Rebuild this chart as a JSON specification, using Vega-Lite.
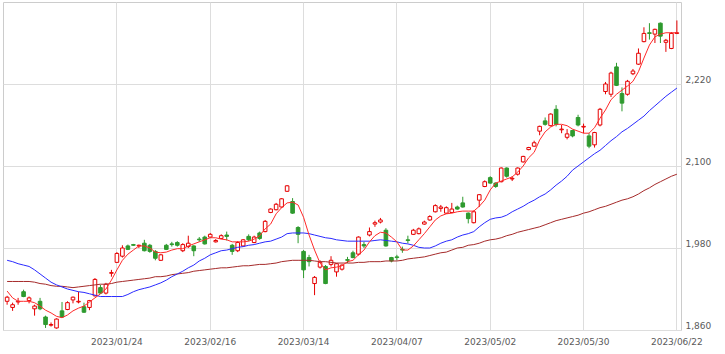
{
  "$schema": "https://vega.github.io/schema/vega-lite/v6.json",
  "width": 678,
  "height": 328,
  "autosize": {"type": "none"},
  "padding": {"left": 3, "top": 2, "right": 44, "bottom": 24},
  "background": "white",
  "config": {
    "view": {"stroke": "#cccccc", "strokeWidth": 1},
    "axis": {"labelFont": "DejaVu Sans", "labelFontSize": 9, "labelColor": "#5a5a5a", "gridColor": "#dddddd", "gridWidth": 1},
    "axisY": {"orient": "right", "title": null, "grid": true,
      "domain": false, "ticks": false, "labelBaseline": "bottom", "labelAlign": "left", "labelPadding": 4}
  },
  "data": {"values": [
    {"d":"2022/12/22","o":1902,"h":1910,"l":1897,"c":1908,"m5":1917,"m25":1962,"m75":1931},
    {"d":"2022/12/23","o":1893,"h":1900,"l":1888,"c":1897,"m5":1907,"m25":1960,"m75":1931},
    {"d":"2022/12/26","o":1901,"h":1907,"l":1897,"c":1902,"m5":1902,"m25":1957,"m75":1931},
    {"d":"2022/12/27","o":1916,"h":1919,"l":1908,"c":1909,"m5":1902,"m25":1955,"m75":1931},
    {"d":"2022/12/28","o":1903,"h":1909,"l":1899,"c":1907,"m5":1902,"m25":1953,"m75":1931},
    {"d":"2022/12/29","o":1891,"h":1897,"l":1881,"c":1895,"m5":1900,"m25":1948,"m75":1930},
    {"d":"2022/12/30","o":1902,"h":1907,"l":1889,"c":1891,"m5":1895,"m25":1942,"m75":1928},
    {"d":"2023/01/04","o":1879,"h":1881,"l":1863,"c":1868,"m5":1889,"m25":1936,"m75":1927},
    {"d":"2023/01/05","o":1867,"h":1871,"l":1865,"c":1868,"m5":1885,"m25":1930,"m75":1925},
    {"d":"2023/01/06","o":1863,"h":1877,"l":1862,"c":1876,"m5":1880,"m25":1926,"m75":1924},
    {"d":"2023/01/10","o":1888,"h":1901,"l":1878,"c":1879,"m5":1878,"m25":1923,"m75":1924},
    {"d":"2023/01/11","o":1890,"h":1902,"l":1889,"c":1900,"m5":1882,"m25":1920,"m75":1923},
    {"d":"2023/01/12","o":1904,"h":1909,"l":1899,"c":1908,"m5":1888,"m25":1918,"m75":1922},
    {"d":"2023/01/13","o":1901,"h":1916,"l":1899,"c":1902,"m5":1892,"m25":1916,"m75":1923},
    {"d":"2023/01/16","o":1894,"h":1900,"l":1885,"c":1886,"m5":1895,"m25":1915,"m75":1924},
    {"d":"2023/01/17","o":1893,"h":1904,"l":1889,"c":1903,"m5":1901,"m25":1913,"m75":1925},
    {"d":"2023/01/18","o":1910,"h":1936,"l":1909,"c":1934,"m5":1907,"m25":1911,"m75":1926},
    {"d":"2023/01/19","o":1922,"h":1926,"l":1913,"c":1914,"m5":1913,"m25":1909,"m75":1927},
    {"d":"2023/01/20","o":1914,"h":1929,"l":1912,"c":1927,"m5":1920,"m25":1909,"m75":1927},
    {"d":"2023/01/23","o":1943,"h":1948,"l":1938,"c":1944,"m5":1933,"m25":1909,"m75":1928},
    {"d":"2023/01/24","o":1959,"h":1974,"l":1958,"c":1972,"m5":1948,"m25":1909,"m75":1930},
    {"d":"2023/01/25","o":1968,"h":1984,"l":1966,"c":1980,"m5":1962,"m25":1909,"m75":1931},
    {"d":"2023/01/26","o":1983,"h":1985,"l":1977,"c":1978,"m5":1971,"m25":1912,"m75":1932},
    {"d":"2023/01/27","o":1985,"h":1986,"l":1983,"c":1984,"m5":1977,"m25":1916,"m75":1933},
    {"d":"2023/01/30","o":1983,"h":1985,"l":1980,"c":1984,"m5":1983,"m25":1919,"m75":1934},
    {"d":"2023/01/31","o":1987,"h":1992,"l":1975,"c":1976,"m5":1983,"m25":1921,"m75":1935},
    {"d":"2023/02/01","o":1984,"h":1986,"l":1973,"c":1975,"m5":1980,"m25":1923,"m75":1936},
    {"d":"2023/02/02","o":1975,"h":1977,"l":1962,"c":1965,"m5":1974,"m25":1926,"m75":1938},
    {"d":"2023/02/03","o":1962,"h":1971,"l":1961,"c":1970,"m5":1973,"m25":1929,"m75":1938},
    {"d":"2023/02/06","o":1984,"h":1986,"l":1977,"c":1978,"m5":1974,"m25":1933,"m75":1939},
    {"d":"2023/02/07","o":1986,"h":1989,"l":1982,"c":1985,"m5":1977,"m25":1938,"m75":1941},
    {"d":"2023/02/08","o":1988,"h":1990,"l":1982,"c":1984,"m5":1979,"m25":1942,"m75":1942},
    {"d":"2023/02/09","o":1976,"h":1987,"l":1974,"c":1985,"m5":1979,"m25":1946,"m75":1943},
    {"d":"2023/02/10","o":1982,"h":1998,"l":1980,"c":1987,"m5":1983,"m25":1951,"m75":1944},
    {"d":"2023/02/13","o":1983,"h":1984,"l":1968,"c":1976,"m5":1986,"m25":1955,"m75":1946},
    {"d":"2023/02/14","o":1993,"h":1996,"l":1989,"c":1992,"m5":1989,"m25":1961,"m75":1947},
    {"d":"2023/02/15","o":1996,"h":1998,"l":1985,"c":1986,"m5":1992,"m25":1965,"m75":1948},
    {"d":"2023/02/16","o":1996,"h":2002,"l":1995,"c":2000,"m5":1995,"m25":1970,"m75":1949},
    {"d":"2023/02/17","o":1989,"h":1993,"l":1988,"c":1991,"m5":1995,"m25":1973,"m75":1950},
    {"d":"2023/02/20","o":1994,"h":2000,"l":1993,"c":1998,"m5":1993,"m25":1976,"m75":1951},
    {"d":"2023/02/21","o":1999,"h":2004,"l":1991,"c":1997,"m5":1992,"m25":1977,"m75":1951},
    {"d":"2023/02/22","o":1984,"h":1986,"l":1970,"c":1975,"m5":1989,"m25":1979,"m75":1952},
    {"d":"2023/02/24","o":1976,"h":1990,"l":1974,"c":1988,"m5":1989,"m25":1981,"m75":1953},
    {"d":"2023/02/27","o":1983,"h":1993,"l":1982,"c":1992,"m5":1989,"m25":1982,"m75":1954},
    {"d":"2023/02/28","o":1997,"h":2000,"l":1990,"c":1992,"m5":1990,"m25":1984,"m75":1954},
    {"d":"2023/03/01","o":1988,"h":1998,"l":1987,"c":1996,"m5":1993,"m25":1985,"m75":1955},
    {"d":"2023/03/02","o":2002,"h":2004,"l":1992,"c":1994,"m5":1998,"m25":1987,"m75":1956},
    {"d":"2023/03/03","o":2004,"h":2021,"l":2003,"c":2019,"m5":2008,"m25":1989,"m75":1956},
    {"d":"2023/03/06","o":2032,"h":2038,"l":2031,"c":2037,"m5":2015,"m25":1990,"m75":1957},
    {"d":"2023/03/07","o":2036,"h":2046,"l":2035,"c":2044,"m5":2030,"m25":1993,"m75":1958},
    {"d":"2023/03/08","o":2040,"h":2053,"l":2039,"c":2052,"m5":2039,"m25":1996,"m75":1960},
    {"d":"2023/03/09","o":2063,"h":2072,"l":2062,"c":2071,"m5":2046,"m25":2001,"m75":1961},
    {"d":"2023/03/10","o":2048,"h":2053,"l":2030,"c":2031,"m5":2047,"m25":2002,"m75":1962},
    {"d":"2023/03/13","o":2010,"h":2012,"l":1987,"c":2000,"m5":2043,"m25":2002,"m75":1962},
    {"d":"2023/03/14","o":1975,"h":1977,"l":1936,"c":1948,"m5":2025,"m25":2002,"m75":1962},
    {"d":"2023/03/15","o":1966,"h":1970,"l":1953,"c":1960,"m5":1999,"m25":2001,"m75":1962},
    {"d":"2023/03/16","o":1928,"h":1939,"l":1911,"c":1937,"m5":1977,"m25":1999,"m75":1961},
    {"d":"2023/03/17","o":1952,"h":1962,"l":1950,"c":1959,"m5":1958,"m25":1997,"m75":1960},
    {"d":"2023/03/20","o":1953,"h":1955,"l":1927,"c":1928,"m5":1948,"m25":1995,"m75":1960},
    {"d":"2023/03/22","o":1956,"h":1968,"l":1953,"c":1962,"m5":1951,"m25":1994,"m75":1959},
    {"d":"2023/03/23","o":1945,"h":1958,"l":1938,"c":1957,"m5":1952,"m25":1992,"m75":1958},
    {"d":"2023/03/24","o":1949,"h":1956,"l":1947,"c":1955,"m5":1954,"m25":1991,"m75":1958},
    {"d":"2023/03/27","o":1963,"h":1967,"l":1958,"c":1962,"m5":1960,"m25":1990,"m75":1958},
    {"d":"2023/03/28","o":1973,"h":1976,"l":1965,"c":1966,"m5":1962,"m25":1990,"m75":1958},
    {"d":"2023/03/29","o":1971,"h":1997,"l":1969,"c":1996,"m5":1970,"m25":1990,"m75":1959},
    {"d":"2023/03/30","o":1985,"h":1989,"l":1980,"c":1983,"m5":1977,"m25":1990,"m75":1959},
    {"d":"2023/03/31","o":1999,"h":2010,"l":1997,"c":2004,"m5":1989,"m25":1990,"m75":1960},
    {"d":"2023/04/03","o":2015,"h":2020,"l":2011,"c":2017,"m5":1998,"m25":1991,"m75":1960},
    {"d":"2023/04/04","o":2018,"h":2024,"l":2016,"c":2021,"m5":2003,"m25":1992,"m75":1960},
    {"d":"2023/04/05","o":2006,"h":2009,"l":1982,"c":1983,"m5":2002,"m25":1991,"m75":1961},
    {"d":"2023/04/06","o":1966,"h":1967,"l":1959,"c":1961,"m5":1996,"m25":1990,"m75":1961},
    {"d":"2023/04/07","o":1967,"h":1970,"l":1962,"c":1966,"m5":1989,"m25":1989,"m75":1961},
    {"d":"2023/04/10","o":1978,"h":1982,"l":1973,"c":1977,"m5":1977,"m25":1987,"m75":1962},
    {"d":"2023/04/11","o":1992,"h":1998,"l":1987,"c":1991,"m5":1977,"m25":1986,"m75":1964},
    {"d":"2023/04/12","o":2000,"h":2008,"l":1999,"c":2006,"m5":1983,"m25":1984,"m75":1965},
    {"d":"2023/04/13","o":2001,"h":2010,"l":2000,"c":2008,"m5":1992,"m25":1981,"m75":1966},
    {"d":"2023/04/14","o":2015,"h":2020,"l":2014,"c":2018,"m5":2001,"m25":1980,"m75":1967},
    {"d":"2023/04/17","o":2021,"h":2028,"l":2020,"c":2026,"m5":2011,"m25":1980,"m75":1969},
    {"d":"2023/04/18","o":2033,"h":2044,"l":2032,"c":2042,"m5":2021,"m25":1983,"m75":1971},
    {"d":"2023/04/19","o":2038,"h":2043,"l":2033,"c":2040,"m5":2027,"m25":1987,"m75":1973},
    {"d":"2023/04/20","o":2031,"h":2041,"l":2030,"c":2039,"m5":2030,"m25":1990,"m75":1974},
    {"d":"2023/04/21","o":2032,"h":2046,"l":2031,"c":2037,"m5":2031,"m25":1992,"m75":1977},
    {"d":"2023/04/24","o":2040,"h":2042,"l":2036,"c":2037,"m5":2033,"m25":1996,"m75":1980},
    {"d":"2023/04/25","o":2046,"h":2055,"l":2039,"c":2040,"m5":2034,"m25":1999,"m75":1981},
    {"d":"2023/04/26","o":2031,"h":2032,"l":2016,"c":2023,"m5":2034,"m25":2001,"m75":1984},
    {"d":"2023/04/27","o":2017,"h":2035,"l":2016,"c":2033,"m5":2034,"m25":2004,"m75":1985},
    {"d":"2023/04/28","o":2050,"h":2059,"l":2040,"c":2058,"m5":2041,"m25":2011,"m75":1987},
    {"d":"2023/05/01","o":2070,"h":2079,"l":2069,"c":2077,"m5":2050,"m25":2017,"m75":1990},
    {"d":"2023/05/02","o":2083,"h":2085,"l":2074,"c":2075,"m5":2065,"m25":2022,"m75":1992},
    {"d":"2023/05/08","o":2075,"h":2076,"l":2068,"c":2070,"m5":2075,"m25":2024,"m75":1993},
    {"d":"2023/05/09","o":2077,"h":2098,"l":2076,"c":2097,"m5":2078,"m25":2025,"m75":1995},
    {"d":"2023/05/10","o":2097,"h":2098,"l":2083,"c":2085,"m5":2081,"m25":2028,"m75":1998},
    {"d":"2023/05/11","o":2081,"h":2085,"l":2078,"c":2082,"m5":2084,"m25":2033,"m75":2000},
    {"d":"2023/05/12","o":2088,"h":2098,"l":2086,"c":2097,"m5":2091,"m25":2037,"m75":2003},
    {"d":"2023/05/15","o":2106,"h":2115,"l":2105,"c":2114,"m5":2100,"m25":2041,"m75":2005},
    {"d":"2023/05/16","o":2124,"h":2128,"l":2123,"c":2127,"m5":2112,"m25":2046,"m75":2007},
    {"d":"2023/05/17","o":2129,"h":2137,"l":2128,"c":2134,"m5":2120,"m25":2050,"m75":2009},
    {"d":"2023/05/18","o":2151,"h":2159,"l":2145,"c":2158,"m5":2138,"m25":2055,"m75":2011},
    {"d":"2023/05/19","o":2166,"h":2171,"l":2159,"c":2161,"m5":2150,"m25":2059,"m75":2014},
    {"d":"2023/05/22","o":2159,"h":2177,"l":2158,"c":2176,"m5":2157,"m25":2065,"m75":2017},
    {"d":"2023/05/23","o":2183,"h":2189,"l":2158,"c":2161,"m5":2161,"m25":2072,"m75":2020},
    {"d":"2023/05/24","o":2153,"h":2160,"l":2148,"c":2154,"m5":2161,"m25":2078,"m75":2022},
    {"d":"2023/05/25","o":2142,"h":2154,"l":2139,"c":2147,"m5":2159,"m25":2085,"m75":2024},
    {"d":"2023/05/26","o":2152,"h":2153,"l":2142,"c":2144,"m5":2154,"m25":2094,"m75":2026},
    {"d":"2023/05/29","o":2171,"h":2175,"l":2158,"c":2160,"m5":2151,"m25":2100,"m75":2028},
    {"d":"2023/05/30","o":2157,"h":2162,"l":2148,"c":2158,"m5":2148,"m25":2106,"m75":2031},
    {"d":"2023/05/31","o":2144,"h":2148,"l":2126,"c":2129,"m5":2148,"m25":2112,"m75":2033},
    {"d":"2023/06/01","o":2131,"h":2150,"l":2127,"c":2149,"m5":2156,"m25":2118,"m75":2036},
    {"d":"2023/06/02","o":2160,"h":2185,"l":2158,"c":2183,"m5":2170,"m25":2123,"m75":2039},
    {"d":"2023/06/05","o":2209,"h":2223,"l":2205,"c":2220,"m5":2182,"m25":2130,"m75":2041},
    {"d":"2023/06/06","o":2205,"h":2238,"l":2201,"c":2236,"m5":2197,"m25":2137,"m75":2044},
    {"d":"2023/06/07","o":2245,"h":2251,"l":2217,"c":2218,"m5":2205,"m25":2143,"m75":2047},
    {"d":"2023/06/08","o":2206,"h":2215,"l":2180,"c":2192,"m5":2211,"m25":2150,"m75":2050},
    {"d":"2023/06/09","o":2205,"h":2226,"l":2203,"c":2224,"m5":2217,"m25":2155,"m75":2052},
    {"d":"2023/06/12","o":2235,"h":2242,"l":2233,"c":2239,"m5":2224,"m25":2161,"m75":2055},
    {"d":"2023/06/13","o":2249,"h":2272,"l":2248,"c":2265,"m5":2238,"m25":2167,"m75":2059},
    {"d":"2023/06/14","o":2282,"h":2303,"l":2281,"c":2294,"m5":2258,"m25":2173,"m75":2064},
    {"d":"2023/06/15","o":2295,"h":2309,"l":2285,"c":2294,"m5":2277,"m25":2181,"m75":2068},
    {"d":"2023/06/16","o":2293,"h":2301,"l":2280,"c":2300,"m5":2289,"m25":2188,"m75":2073},
    {"d":"2023/06/19","o":2309,"h":2310,"l":2280,"c":2290,"m5":2293,"m25":2195,"m75":2077},
    {"d":"2023/06/20","o":2281,"h":2286,"l":2267,"c":2284,"m5":2295,"m25":2202,"m75":2081},
    {"d":"2023/06/21","o":2272,"h":2296,"l":2271,"c":2294,"m5":2295,"m25":2208,"m75":2085},
    {"d":"2023/06/22","o":2294,"h":2313,"l":2293,"c":2295,"m5":2295,"m25":2214,"m75":2088}
  ]},
  "layer": [
    {
      "mark": {"type": "rule", "strokeWidth": 1},
      "encoding": {
        "x": {"field": "d", "type": "ordinal", "bandPosition": 0.5,
          "scale": {"type": "band", "paddingInner": 0, "paddingOuter": 0.25},
          "axis": {"values": ["2023/01/24","2023/02/16","2023/03/14","2023/04/07","2023/05/02","2023/05/30","2023/06/22"],
            "title": null, "grid": true, "domain": false, "ticks": false, "labelAngle": 0, "labelPadding": 7, "bandPosition": 0.5}},
        "y": {"field": "l", "type": "quantitative",
          "scale": {"domain": [1860, 2340], "zero": false, "nice": false},
          "axis": {"values": [1860, 1980, 2100, 2220], "format": ",", "labelExpr": "format(datum.value, ',')"}},
        "y2": {"field": "h"},
        "color": {"condition": {"test": "datum.c >= datum.o", "value": "#e60000"}, "value": "#2e9a2e"}
      }
    },
    {
      "mark": {"type": "bar", "width": 3.6, "strokeWidth": 1},
      "encoding": {
        "x": {"field": "d", "type": "ordinal", "title": null},
        "y": {"field": "o", "type": "quantitative", "axis": {"values": [1860, 1980, 2100, 2220], "format": ",", "labelExpr": "format(datum.value, ',')"}},
        "y2": {"field": "c"},
        "fill": {"condition": {"test": "datum.c >= datum.o", "value": "#ffffff"}, "value": "#2e9a2e"},
        "stroke": {"condition": {"test": "datum.c >= datum.o", "value": "#e60000"}, "value": "#2e9a2e"}
      }
    },
    {
      "mark": {"type": "line", "color": "#a52a2a", "strokeWidth": 1},
      "encoding": {
        "x": {"field": "d", "type": "ordinal", "bandPosition": 0.5, "title": null},
        "y": {"field": "m75", "type": "quantitative", "axis": {"values": [1860, 1980, 2100, 2220], "format": ",", "labelExpr": "format(datum.value, ',')"}}
      }
    },
    {
      "mark": {"type": "line", "color": "#2a2aff", "strokeWidth": 1},
      "encoding": {
        "x": {"field": "d", "type": "ordinal", "bandPosition": 0.5, "title": null},
        "y": {"field": "m25", "type": "quantitative", "axis": {"values": [1860, 1980, 2100, 2220], "format": ",", "labelExpr": "format(datum.value, ',')"}}
      }
    },
    {
      "mark": {"type": "line", "color": "#ff2a2a", "strokeWidth": 1},
      "encoding": {
        "x": {"field": "d", "type": "ordinal", "bandPosition": 0.5, "title": null},
        "y": {"field": "m5", "type": "quantitative", "axis": {"values": [1860, 1980, 2100, 2220], "format": ",", "labelExpr": "format(datum.value, ',')"}}
      }
    }
  ]
}
